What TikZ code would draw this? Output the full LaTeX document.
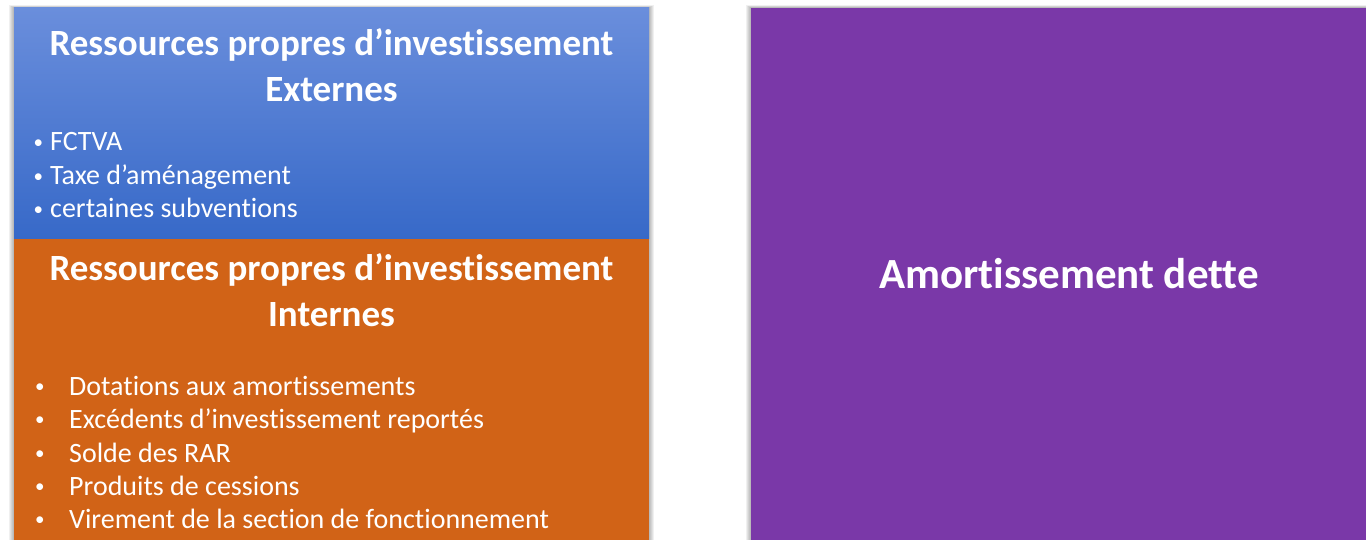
\documentclass[tikz,border=0pt]{standalone}
\usepackage{fontspec}
\setmainfont{Carlito}[RawFeature={-liga,-clig,-dlig}]
\usetikzlibrary{positioning}
\definecolor{bluetop}{RGB}{106,142,220}
\definecolor{bluebot}{RGB}{55,105,200}
\definecolor{orangebox}{RGB}{209,99,23}
\definecolor{purplebox}{RGB}{122,56,168}
\newcommand{\smbul}{{\fontsize{19}{19}\selectfont\raisebox{2.6pt}{•}}}
\tikzset{
  title/.style={text=white, font=\fontsize{37}{43}\selectfont\bfseries, align=center, anchor=base, inner sep=0pt},
  item/.style={text=white, font=\fontsize{28}{33}\selectfont, anchor=base west, inner sep=0pt},
  big/.style={text=white, font=\fontsize{43}{50}\selectfont\bfseries, anchor=base, inner sep=0pt},
  shadowbox/.style={fill=black, opacity=0.06, draw=none},
}
\begin{document}
\begin{tikzpicture}[x=1pt,y=-1pt]
\useasboundingbox (0,0) rectangle (1366,540);
\fill[white] (0,0) rectangle (1366,540);
% shadows
\foreach \d in {1,2,3,4,5}{
  \fill[shadowbox] (14-\d,8-\d*0.5) rectangle (649+\d,545);
  \fill[shadowbox] (751-\d,8-\d*0.5) rectangle (1370,545);
}
% blue box
\shade[top color=bluetop, bottom color=bluebot] (14,8) rectangle (649,239);
\node[inner sep=0pt, minimum width=635pt, minimum height=231pt] (ext) at (331.5,123.5) {};
% orange box
\fill[orangebox] (14,239) rectangle (649,545);
\node[inner sep=0pt, minimum width=635pt, minimum height=301pt] (int) at (331.5,389.5) {};
% purple box
\fill[purplebox] (751,8) rectangle (1370,545);
\node[inner sep=0pt, minimum width=615pt, minimum height=532pt] (dette) at (1058.5,274) {};

% blue texts
\node[title] (t1a) at (331.5,56) {Ressources propres d’investissement};
\node[title] (t1b) at (331.5,102) {Externes};
\node[item] (b1) at (33.5,151) {\makebox[16.5pt][l]{\smbul}FCTVA};
\node[item] (b2) at (33.5,185) {\makebox[16.5pt][l]{\smbul}Taxe d’aménagement};
\node[item] (b3) at (33.5,218) {\makebox[16.5pt][l]{\smbul}certaines subventions};

% orange texts
\node[title] (t2a) at (331.5,280) {Ressources propres d’investissement};
\node[title] (t2b) at (331.5,326) {Internes};
\node[item] (i1) at (35,395) {\makebox[34pt][l]{\smbul}Dotations aux amortissements};
\node[item] (i2) at (35,428) {\makebox[34pt][l]{\smbul}Excédents d’investissement reportés};
\node[item] (i3) at (35,462) {\makebox[34pt][l]{\smbul}Solde des RAR};
\node[item] (i4) at (35,495) {\makebox[34pt][l]{\smbul}Produits de cessions};
\node[item] (i5) at (35,528) {\makebox[34pt][l]{\smbul}Virement de la section de fonctionnement};

% purple text
\node[big] (d1) at (1069,288) {Amortissement dette};
\end{tikzpicture}
\end{document}
